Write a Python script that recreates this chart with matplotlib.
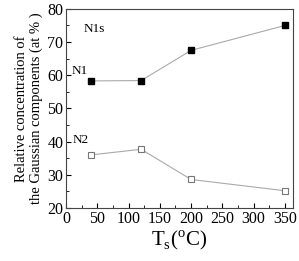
import matplotlib
matplotlib.use("Agg")
import matplotlib.pyplot as plt
from matplotlib.ticker import MultipleLocator

temps = [40, 120, 200, 350]
n1 = [58.3, 58.4, 67.5, 75.0]
n2 = [36.0, 37.7, 28.6, 25.2]

plt.rcParams["font.family"] = ["Liberation Serif", "DejaVu Serif"]
plt.rcParams["mathtext.fontset"] = "custom"
plt.rcParams["mathtext.rm"] = "Liberation Serif"

fig = plt.figure(figsize=(2.99, 2.61), dpi=100)
ax = fig.add_axes([0.221, 0.203, 0.759, 0.763])

ax.plot(temps, n1, color="#aaaaaa", lw=0.8, marker="s", ms=5,
        mfc="black", mec="black", zorder=3)
ax.plot(temps, n2, color="#aaaaaa", lw=0.8, marker="s", ms=5,
        mfc="white", mec="#777777", mew=0.8, zorder=3)

ax.text(45, 74, "N1s", fontsize=9.5, ha="center", va="center")
ax.text(22, 61.2, "N1", fontsize=9.5, ha="center", va="center")
ax.text(24, 40.5, "N2", fontsize=9.5, ha="center", va="center")

ax.set_xlim(0, 363)
ax.set_ylim(20, 80)
ax.xaxis.set_major_locator(MultipleLocator(50))
ax.xaxis.set_minor_locator(MultipleLocator(25))
ax.yaxis.set_major_locator(MultipleLocator(10))
ax.yaxis.set_minor_locator(MultipleLocator(5))
ax.tick_params(which="both", direction="in", labelsize=11.5, pad=2)
ax.tick_params(which="major", length=3.5)
ax.tick_params(which="minor", length=2)
for s in ax.spines.values():
    s.set_color("#444444")
    s.set_linewidth(0.8)

ax.set_ylabel("Relative concentration of\nthe Gaussian components (at % )",
              fontsize=10.5, linespacing=1.15, labelpad=3)
ax.set_xlabel(r"T$_{\mathrm{s}}$($^{\mathrm{o}}$C)", fontsize=15, labelpad=1)

fig.savefig("out.png", dpi=100)
